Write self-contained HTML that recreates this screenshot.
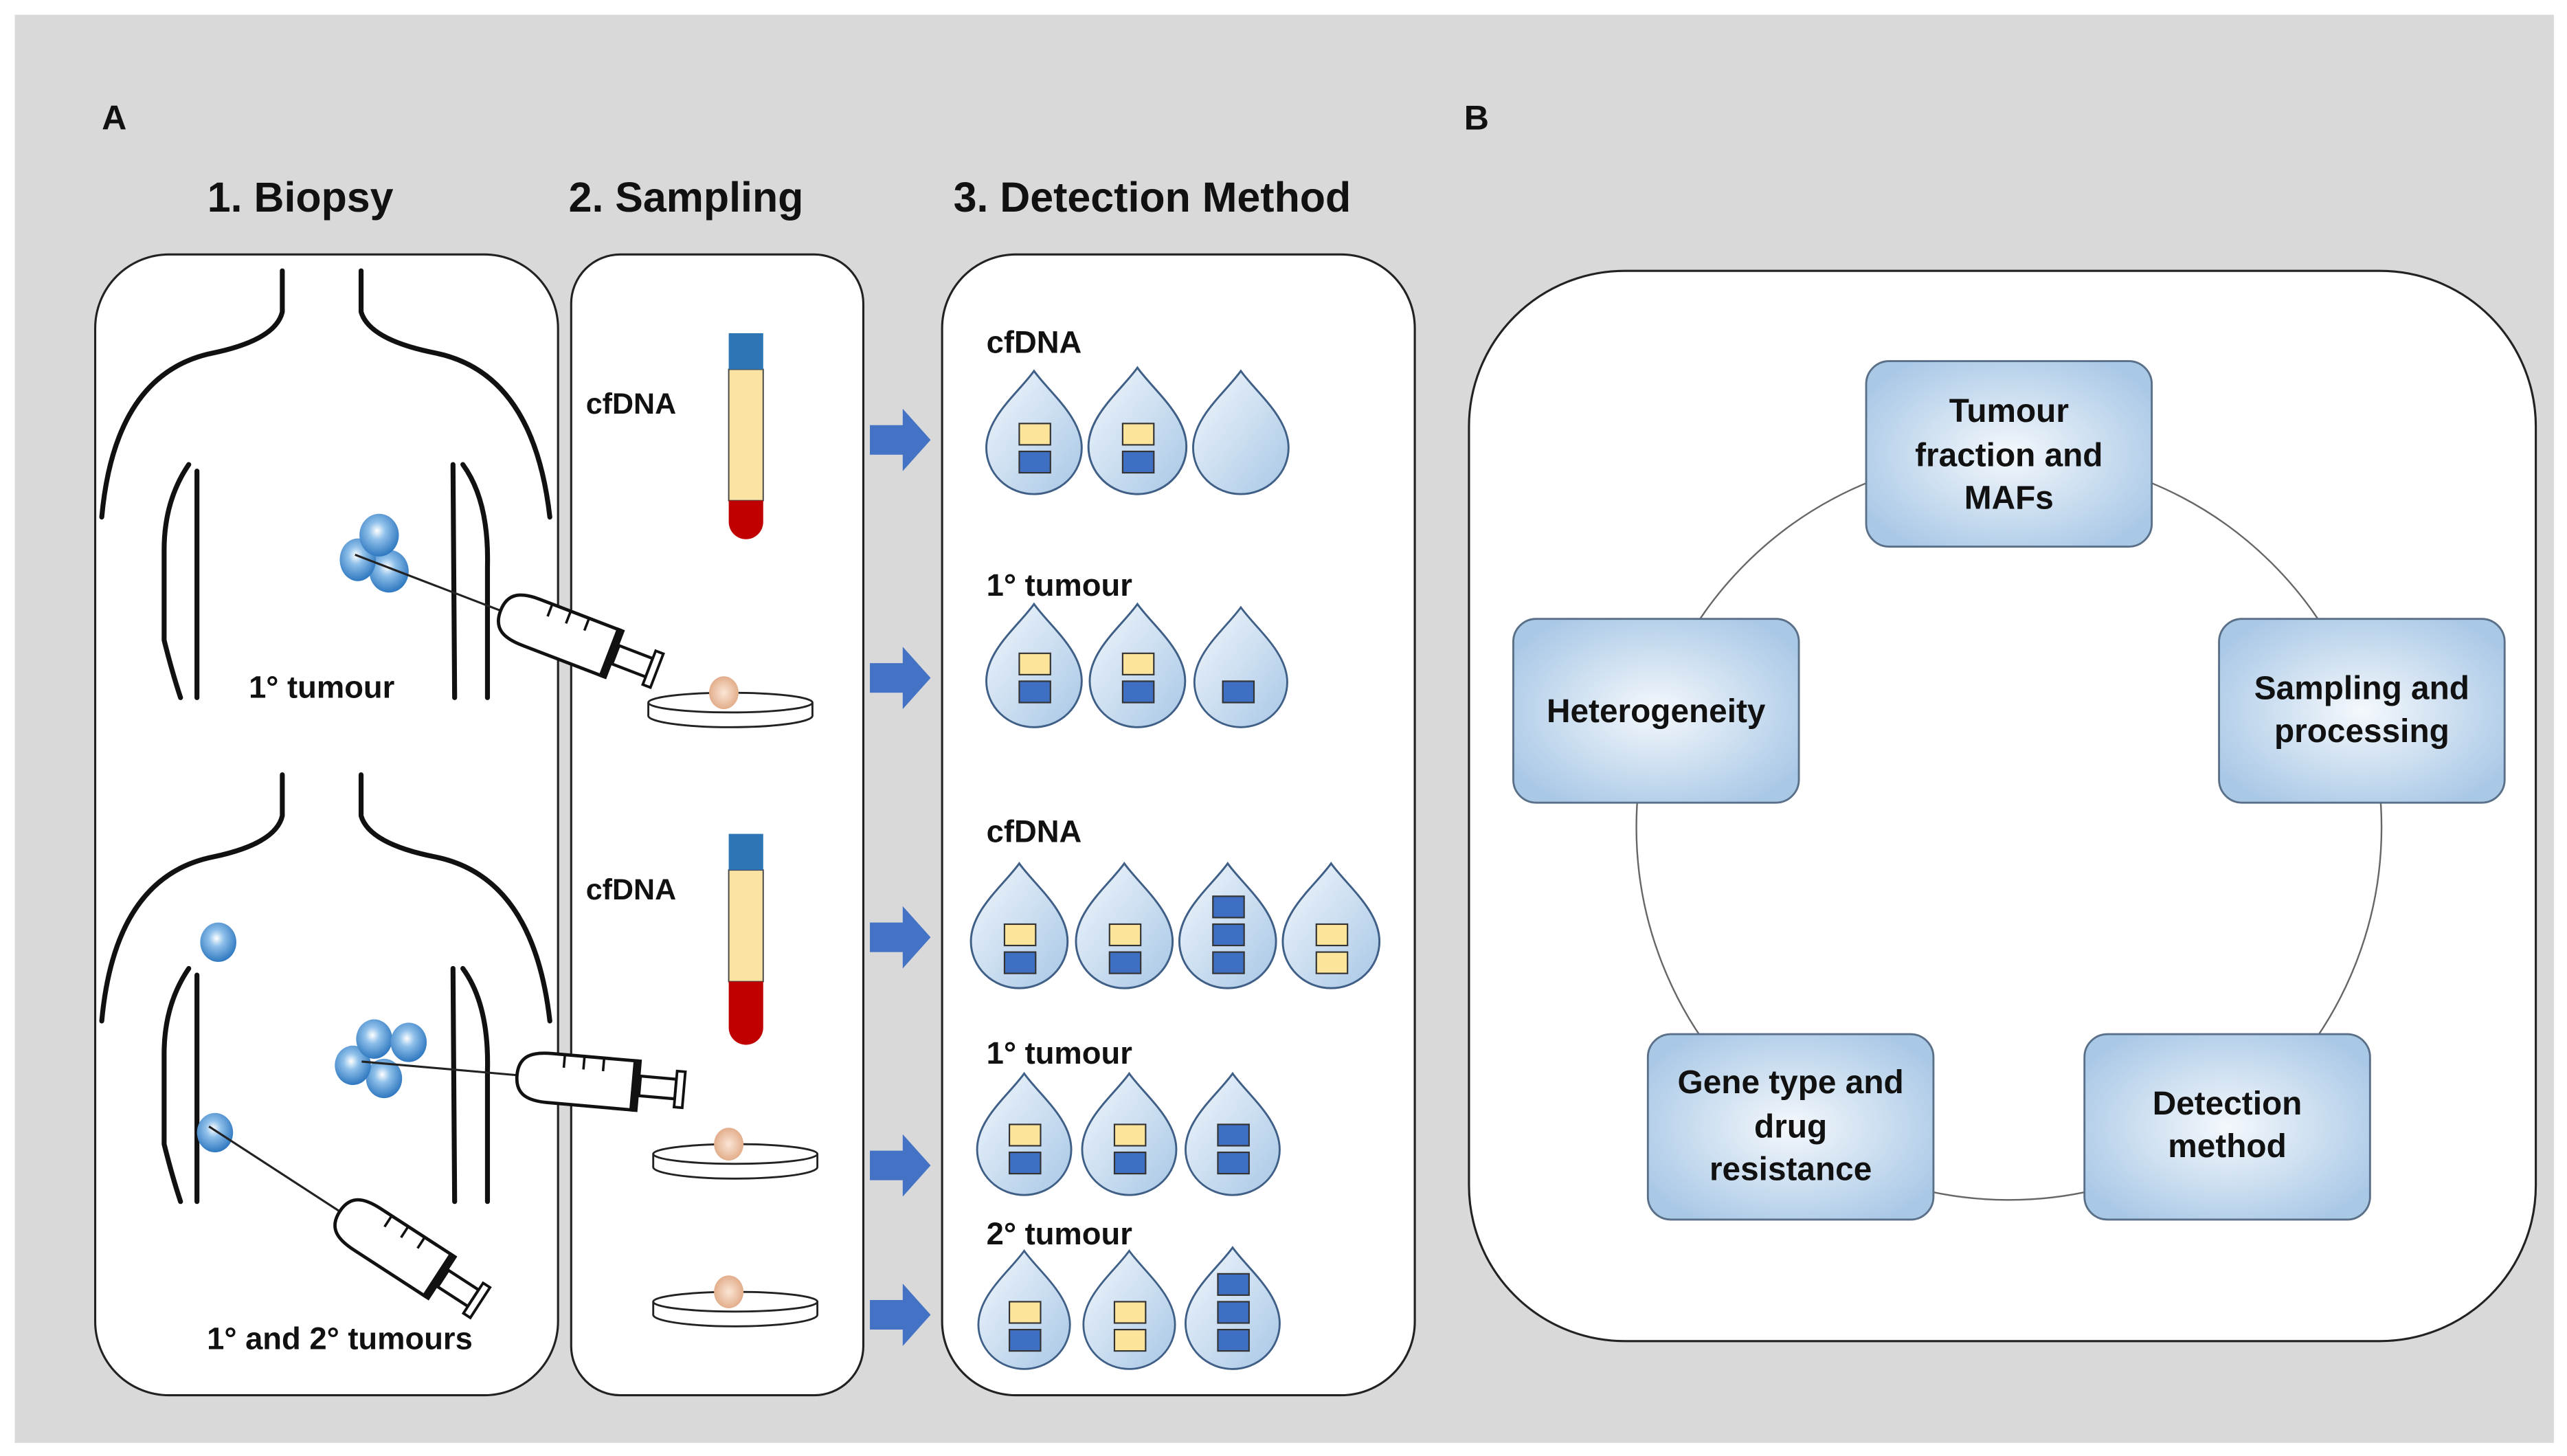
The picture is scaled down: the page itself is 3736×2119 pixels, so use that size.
<!DOCTYPE html>
<html><head><meta charset="utf-8"><style>
html,body{margin:0;padding:0;background:#fff}
svg{display:block}
text{font-family:"Liberation Sans",sans-serif;font-weight:bold;fill:#111}
</style></head><body>
<svg width="3736" height="2119" viewBox="0 0 1564 887" preserveAspectRatio="none" xmlns="http://www.w3.org/2000/svg">
<defs>
<radialGradient id="bx" cx="50%" cy="50%" r="60%"><stop offset="0" stop-color="#f4f8fc"/><stop offset="1" stop-color="#a9c8e6"/></radialGradient>
<linearGradient id="dr" x1="0" y1="0" x2="1" y2="1"><stop offset="0" stop-color="#f2f7fc"/><stop offset="1" stop-color="#a8c7e6"/></linearGradient>
<radialGradient id="cell" cx="45%" cy="40%" r="60%"><stop offset="0" stop-color="#ffffff"/><stop offset="0.35" stop-color="#8fc0ea"/><stop offset="1" stop-color="#2f78c0"/></radialGradient>
<radialGradient id="tis" cx="50%" cy="50%" r="55%"><stop offset="0" stop-color="#fbe6d6"/><stop offset="1" stop-color="#e0a884"/></radialGradient>
<symbol id="drop" viewBox="-32 0 64 80" overflow="visible">
<path d="M0,0 C10,14 31,30 31,50 A31,30 0 0 1 -31,50 C-31,30 -10,14 0,0Z" fill="url(#dr)" stroke="#3f5f86" stroke-width="1.3"/>
</symbol>
<g id="syr">
<line x1="-95" y1="0" x2="0" y2="0" stroke="#222" stroke-width="1.3"/>
<path d="M0,0 C0,-12 8,-15 20,-15 L72,-15 L72,15 L20,15 C8,15 0,12 0,0Z" fill="#fff" stroke="#111" stroke-width="2"/>
<line x1="28" y1="-15" x2="28" y2="-7" stroke="#111" stroke-width="1.5"/>
<line x1="40" y1="-15" x2="40" y2="-7" stroke="#111" stroke-width="1.5"/>
<line x1="52" y1="-15" x2="52" y2="-7" stroke="#111" stroke-width="1.5"/>
<rect x="70" y="-16" width="5" height="32" fill="#111"/>
<rect x="75" y="-6" width="22" height="12" fill="#fff" stroke="#111" stroke-width="1.8"/>
<rect x="97" y="-11" width="5" height="22" fill="#fff" stroke="#111" stroke-width="1.6"/>
</g>
<g id="dish">
<ellipse cx="0" cy="8" rx="50" ry="7" fill="#fff" stroke="#222" stroke-width="1.2"/>
<rect x="-50" y="0" width="100" height="8" fill="#fff"/>
<line x1="-50" y1="0" x2="-50" y2="8" stroke="#222" stroke-width="1.2"/>
<line x1="50" y1="0" x2="50" y2="8" stroke="#222" stroke-width="1.2"/>
<ellipse cx="0" cy="0" rx="50" ry="6" fill="#fff" stroke="#222" stroke-width="1.2"/>
<ellipse cx="-4" cy="-6" rx="9" ry="10" fill="url(#tis)"/>
</g>
<g id="body" fill="none" stroke="#111" stroke-width="3" stroke-linecap="round">
<path d="M172,0 L172,25 Q168,42 130,50 Q70,62 62,150"/>
<path d="M220,0 L220,25 Q225,42 265,50 Q325,62 335,150"/>
<path d="M115,118 Q100,140 100,170 L100,225 Q105,245 110,260"/>
<path d="M120,122 L120,260"/>
<path d="M276,118 L277,260"/>
<path d="M282,118 Q298,140 297,180 L297,260"/>
</g>
<g id="arrow"><path d="M0,-9 L20,-9 L20,-19 L37,0 L20,19 L20,9 L0,9Z" fill="#4472c4"/></g>
</defs>
<rect x="0" y="0" width="1564" height="887" fill="#fff"/>
<rect x="9" y="9" width="1547" height="870" fill="#d9d9d9"/>

<text x="62" y="79" font-size="21">A</text>
<text x="892" y="79" font-size="21">B</text>
<text x="183" y="129" font-size="25.5" text-anchor="middle">1. Biopsy</text>
<text x="418" y="129" font-size="25.5" text-anchor="middle">2. Sampling</text>
<text x="702" y="129" font-size="25.5" text-anchor="middle">3. Detection Method</text>

<rect x="58" y="155" width="282" height="695" rx="45" fill="#fff" stroke="#222" stroke-width="1.3"/>
<rect x="348" y="155" width="178" height="695" rx="30" fill="#fff" stroke="#222" stroke-width="1.3"/>
<rect x="574" y="155" width="288" height="695" rx="45" fill="#fff" stroke="#222" stroke-width="1.3"/>
<rect x="895" y="165" width="650" height="652" rx="95" fill="#fff" stroke="#222" stroke-width="1.3"/>

<use href="#body" transform="translate(0,165)"/>
<use href="#body" transform="translate(0,472)"/>

<ellipse cx="237" cy="348" rx="12" ry="13" fill="url(#cell)"/>
<ellipse cx="218" cy="341" rx="11" ry="13" fill="url(#cell)"/>
<ellipse cx="231" cy="326" rx="12" ry="13" fill="url(#cell)"/>
<use href="#syr" transform="translate(305,372) rotate(21)"/>
<use href="#dish" transform="translate(445,428)"/>
<text x="196" y="425" font-size="19" text-anchor="middle">1° tumour</text>

<ellipse cx="133" cy="574" rx="11" ry="12" fill="url(#cell)"/>
<ellipse cx="234" cy="657" rx="11" ry="12" fill="url(#cell)"/>
<ellipse cx="215" cy="649" rx="11" ry="12" fill="url(#cell)"/>
<ellipse cx="228" cy="633" rx="11" ry="12" fill="url(#cell)"/>
<ellipse cx="249" cy="635" rx="11" ry="12" fill="url(#cell)"/>
<ellipse cx="131" cy="690" rx="11" ry="12" fill="url(#cell)"/>
<use href="#syr" transform="translate(315,655) rotate(5)"/>
<use href="#syr" transform="translate(207,738) rotate(33)"/>
<use href="#dish" transform="translate(448,703)"/>
<use href="#dish" transform="translate(448,793)"/>
<text x="207" y="822" font-size="19" text-anchor="middle">1° and 2° tumours</text>

<text x="357" y="252" font-size="18">cfDNA</text>
<rect x="444" y="225" width="21" height="80" fill="#fbe3a4" stroke="#444" stroke-width="0.8"/>
<path d="M444,305 L465,305 L465,318 A10.5,10.5 0 0 1 444,318Z" fill="#c00000"/>
<rect x="444" y="203" width="21" height="22" fill="#2e75b6"/>
<text x="357" y="548" font-size="18">cfDNA</text>
<rect x="444" y="530" width="21" height="68" fill="#fbe3a4" stroke="#444" stroke-width="0.8"/>
<path d="M444,598 L465,598 L465,626 A10.5,10.5 0 0 1 444,626Z" fill="#c00000"/>
<rect x="444" y="508" width="21" height="22" fill="#2e75b6"/>

<use href="#arrow" transform="translate(530,268)"/>
<use href="#arrow" transform="translate(530,413)"/>
<use href="#arrow" transform="translate(530,571)"/>
<use href="#arrow" transform="translate(530,710)"/>
<use href="#arrow" transform="translate(530,801)"/>

<g font-size="19">
<text x="601" y="215">cfDNA</text>
<text x="601" y="363">1° tumour</text>
<text x="601" y="513">cfDNA</text>
<text x="601" y="648">1° tumour</text>
<text x="601" y="758">2° tumour</text>
</g>

<g>
<use href="#drop" x="599" y="226" width="62" height="75"/>
<use href="#drop" x="662" y="224" width="62" height="77"/>
<use href="#drop" x="725" y="226" width="62" height="75"/>
<use href="#drop" x="599" y="368" width="62" height="75"/>
<use href="#drop" x="662" y="368" width="62" height="75"/>
<use href="#drop" x="725" y="370" width="62" height="73"/>
<use href="#drop" x="590" y="526" width="62" height="76"/>
<use href="#drop" x="654" y="526" width="62" height="76"/>
<use href="#drop" x="717" y="526" width="62" height="76"/>
<use href="#drop" x="780" y="526" width="62" height="76"/>
<use href="#drop" x="593" y="654" width="62" height="74"/>
<use href="#drop" x="657" y="654" width="62" height="74"/>
<use href="#drop" x="720" y="654" width="62" height="74"/>
<use href="#drop" x="593" y="762" width="62" height="72"/>
<use href="#drop" x="657" y="762" width="62" height="72"/>
<use href="#drop" x="720" y="760" width="62" height="74"/>
</g>
<g stroke="#333" stroke-width="0.9">
<rect x="621" y="258" width="19" height="13" fill="#fce49a"/><rect x="621" y="275" width="19" height="13" fill="#3f6fc2"/>
<rect x="684" y="258" width="19" height="13" fill="#fce49a"/><rect x="684" y="275" width="19" height="13" fill="#3f6fc2"/>
<rect x="621" y="398" width="19" height="13" fill="#fce49a"/><rect x="621" y="415" width="19" height="13" fill="#3f6fc2"/>
<rect x="684" y="398" width="19" height="13" fill="#fce49a"/><rect x="684" y="415" width="19" height="13" fill="#3f6fc2"/>
<rect x="745" y="415" width="19" height="13" fill="#3f6fc2"/>
<rect x="612" y="563" width="19" height="13" fill="#fce49a"/><rect x="612" y="580" width="19" height="13" fill="#3f6fc2"/>
<rect x="676" y="563" width="19" height="13" fill="#fce49a"/><rect x="676" y="580" width="19" height="13" fill="#3f6fc2"/>
<rect x="739" y="546" width="19" height="13" fill="#3f6fc2"/><rect x="739" y="563" width="19" height="13" fill="#3f6fc2"/><rect x="739" y="580" width="19" height="13" fill="#3f6fc2"/>
<rect x="802" y="563" width="19" height="13" fill="#fce49a"/><rect x="802" y="580" width="19" height="13" fill="#fce49a"/>
<rect x="615" y="685" width="19" height="13" fill="#fce49a"/><rect x="615" y="702" width="19" height="13" fill="#3f6fc2"/>
<rect x="679" y="685" width="19" height="13" fill="#fce49a"/><rect x="679" y="702" width="19" height="13" fill="#3f6fc2"/>
<rect x="742" y="685" width="19" height="13" fill="#3f6fc2"/><rect x="742" y="702" width="19" height="13" fill="#3f6fc2"/>
<rect x="615" y="793" width="19" height="13" fill="#fce49a"/><rect x="615" y="810" width="19" height="13" fill="#3f6fc2"/>
<rect x="679" y="793" width="19" height="13" fill="#fce49a"/><rect x="679" y="810" width="19" height="13" fill="#fce49a"/>
<rect x="742" y="776" width="19" height="13" fill="#3f6fc2"/><rect x="742" y="793" width="19" height="13" fill="#3f6fc2"/><rect x="742" y="810" width="19" height="13" fill="#3f6fc2"/>
</g>

<circle cx="1224" cy="504" r="227" fill="none" stroke="#666" stroke-width="1"/>
<g stroke="#5a6f88" stroke-width="1.2" fill="url(#bx)">
<rect x="1137" y="220" width="174" height="113" rx="14"/>
<rect x="1352" y="377" width="174" height="112" rx="14"/>
<rect x="1270" y="630" width="174" height="113" rx="14"/>
<rect x="1004" y="630" width="174" height="113" rx="14"/>
<rect x="922" y="377" width="174" height="112" rx="14"/>
</g>
<g font-size="20" text-anchor="middle">
<text x="1224" y="257">Tumour</text>
<text x="1224" y="284">fraction and</text>
<text x="1224" y="310">MAFs</text>
<text x="1439" y="426">Sampling and</text>
<text x="1439" y="452">processing</text>
<text x="1357" y="679">Detection</text>
<text x="1357" y="705">method</text>
<text x="1091" y="666">Gene type and</text>
<text x="1091" y="693">drug</text>
<text x="1091" y="719">resistance</text>
<text x="1009" y="440">Heterogeneity</text>
</g>
</svg>
</body></html>
